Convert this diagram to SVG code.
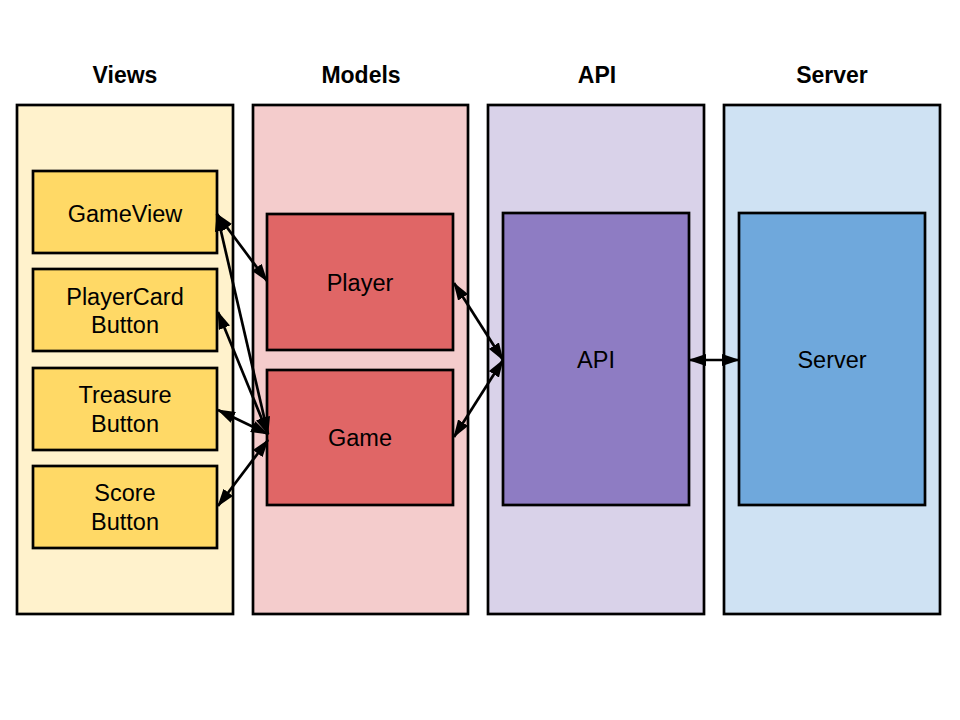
<svg xmlns="http://www.w3.org/2000/svg" width="960" height="720" viewBox="0 0 960 720">
<defs>
<marker id="ah" viewBox="0 0 18 12" refX="17" refY="6" markerWidth="18" markerHeight="12" markerUnits="userSpaceOnUse" orient="auto-start-reverse">
<path d="M0,0 L18,6 L0,12 Z" fill="#000"/>
</marker>
<style>
.title{font-family:"Liberation Sans",Arial,sans-serif;font-weight:bold;font-size:23px;text-anchor:middle}
.lbl{font-family:"Liberation Sans",Arial,sans-serif;font-size:23.5px;text-anchor:middle}
.box{stroke:#000;stroke-width:2.7}
.con{stroke:#000;stroke-width:2.7;fill:none;marker-start:url(#ah);marker-end:url(#ah)}
</style>
</defs>
<rect width="960" height="720" fill="#fff"/>
<g id="col-views">
<rect class="box" x="17" y="105" width="216" height="509" fill="#fff2cc"/>
<text class="title" x="125" y="83">Views</text>
</g>
<g id="col-models">
<rect class="box" x="253" y="105" width="215" height="509" fill="#f4cccc"/>
<text class="title" x="361" y="83">Models</text>
</g>
<g id="col-api">
<rect class="box" x="488" y="105" width="216" height="509" fill="#d9d2e9"/>
<text class="title" x="597" y="83">API</text>
</g>
<g id="col-server">
<rect class="box" x="724" y="105" width="216" height="509" fill="#cfe2f3"/>
<text class="title" x="832" y="83">Server</text>
</g>
<g id="gameview">
<rect class="box" x="33" y="171" width="184" height="82" fill="#ffd966"/>
<text class="lbl" x="125" y="222">GameView</text>
</g>
<g id="playercard">
<rect class="box" x="33" y="269" width="184" height="82" fill="#ffd966"/>
<text class="lbl" x="125" y="305">PlayerCard</text>
<text class="lbl" x="125" y="333">Button</text>
</g>
<g id="treasure">
<rect class="box" x="33" y="368" width="184" height="82" fill="#ffd966"/>
<text class="lbl" x="125" y="403">Treasure</text>
<text class="lbl" x="125" y="432">Button</text>
</g>
<g id="score">
<rect class="box" x="33" y="466" width="184" height="82" fill="#ffd966"/>
<text class="lbl" x="125" y="501">Score</text>
<text class="lbl" x="125" y="530">Button</text>
</g>
<g id="player">
<rect class="box" x="267" y="214" width="186" height="136" fill="#e06666"/>
<text class="lbl" x="360" y="291">Player</text>
</g>
<g id="game">
<rect class="box" x="267" y="370" width="186" height="135" fill="#e06666"/>
<text class="lbl" x="360" y="446">Game</text>
</g>
<g id="api">
<rect class="box" x="503" y="213" width="186" height="292" fill="#8e7cc3"/>
<text class="lbl" x="596" y="368">API</text>
</g>
<g id="server">
<rect class="box" x="739" y="213" width="186" height="292" fill="#6fa8dc"/>
<text class="lbl" x="832" y="368">Server</text>
</g>
<g id="connectors">
<line class="con" x1="217" y1="214" x2="267" y2="281"/>
<line class="con" x1="217" y1="214" x2="268" y2="434"/>
<line class="con" x1="218" y1="312" x2="268" y2="434"/>
<line class="con" x1="218" y1="410" x2="268" y2="434"/>
<line class="con" x1="218" y1="506" x2="268" y2="440"/>
<line class="con" x1="454" y1="283" x2="503" y2="360"/>
<line class="con" x1="454" y1="437" x2="503" y2="360"/>
<line class="con" x1="689" y1="360" x2="739" y2="360"/>
</g>
</svg>
